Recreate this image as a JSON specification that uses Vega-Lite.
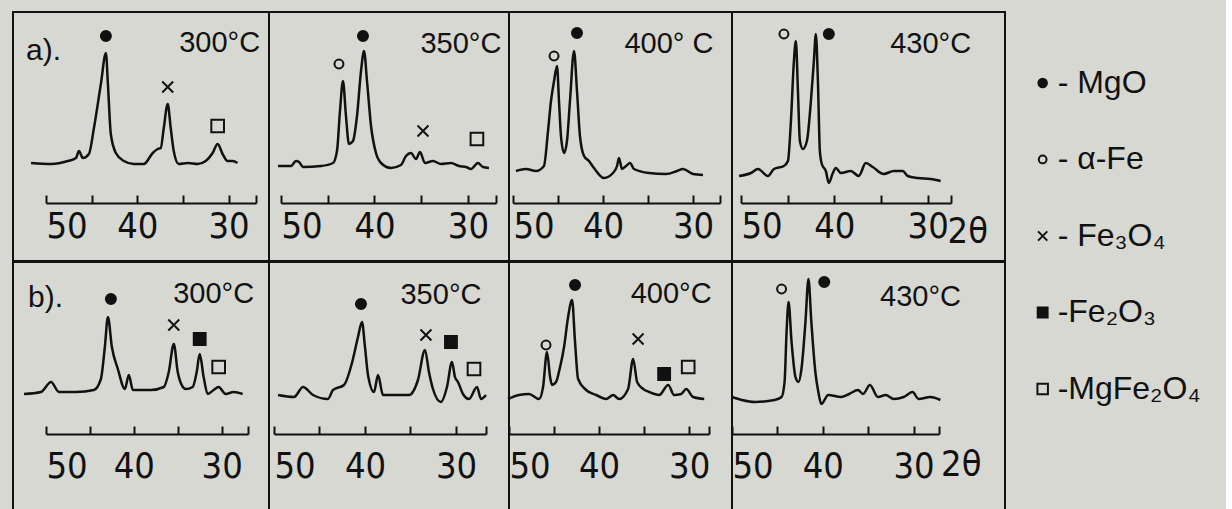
{
 "$schema": "https://vega.github.io/schema/vega-lite/v6.json",
 "background": "#d7d8d2",
 "padding": {"left": 12, "top": 11, "right": 0, "bottom": 0},
 "spacing": 0,
 "resolve": {"scale": {"x": "independent", "y": "independent", "size": "independent"}},
 "datasets": {
  "traces": [
   {"p":"a1","t":51.64,"i":40},{"p":"a1","t":49.45,"i":39},{"p":"a1","t":47.60,"i":42},{"p":"a1","t":46.72,"i":45},{"p":"a1","t":46.39,"i":52},{"p":"a1","t":45.96,"i":45},{"p":"a1","t":45.30,"i":49},{"p":"a1","t":44.75,"i":75},{"p":"a1","t":43.99,"i":119},{"p":"a1","t":43.44,"i":150},{"p":"a1","t":43.22,"i":119},{"p":"a1","t":42.90,"i":69},{"p":"a1","t":42.35,"i":50},{"p":"a1","t":41.48,"i":42},{"p":"a1","t":40.38,"i":39},{"p":"a1","t":39.29,"i":39},{"p":"a1","t":38.31,"i":50},{"p":"a1","t":37.76,"i":54},{"p":"a1","t":37.43,"i":55},{"p":"a1","t":37.10,"i":75},{"p":"a1","t":36.67,"i":99},{"p":"a1","t":36.34,"i":75},{"p":"a1","t":36.01,"i":52},{"p":"a1","t":35.46,"i":39},{"p":"a1","t":34.48,"i":40},{"p":"a1","t":33.39,"i":39},{"p":"a1","t":32.51,"i":42},{"p":"a1","t":31.75,"i":50},{"p":"a1","t":31.20,"i":59},{"p":"a1","t":30.66,"i":49},{"p":"a1","t":30.11,"i":42},{"p":"a1","t":29.56,"i":42},{"p":"a1","t":29.02,"i":40},
   {"p":"a2","t":50.32,"i":37},{"p":"a2","t":48.93,"i":37},{"p":"a2","t":48.40,"i":42},{"p":"a2","t":48.07,"i":41},{"p":"a2","t":47.65,"i":36},{"p":"a2","t":45.72,"i":37},{"p":"a2","t":44.44,"i":40},{"p":"a2","t":44.01,"i":52},{"p":"a2","t":43.69,"i":92},{"p":"a2","t":43.37,"i":122},{"p":"a2","t":43.05,"i":87},{"p":"a2","t":42.73,"i":59},{"p":"a2","t":42.30,"i":62},{"p":"a2","t":41.87,"i":87},{"p":"a2","t":41.44,"i":132},{"p":"a2","t":41.12,"i":152},{"p":"a2","t":40.80,"i":122},{"p":"a2","t":40.37,"i":77},{"p":"a2","t":39.84,"i":50},{"p":"a2","t":39.30,"i":40},{"p":"a2","t":38.24,"i":35},{"p":"a2","t":37.17,"i":38},{"p":"a2","t":36.63,"i":47},{"p":"a2","t":36.10,"i":50},{"p":"a2","t":35.56,"i":44},{"p":"a2","t":35.13,"i":51},{"p":"a2","t":34.60,"i":40},{"p":"a2","t":33.74,"i":42},{"p":"a2","t":32.89,"i":39},{"p":"a2","t":31.82,"i":40},{"p":"a2","t":30.96,"i":37},{"p":"a2","t":30.21,"i":36},{"p":"a2","t":29.68,"i":34},{"p":"a2","t":28.93,"i":40},{"p":"a2","t":28.40,"i":36},{"p":"a2","t":27.75,"i":35},
   {"p":"a3","t":49.67,"i":32},{"p":"a3","t":48.56,"i":34},{"p":"a3","t":47.44,"i":32},{"p":"a3","t":46.56,"i":37},{"p":"a3","t":46.11,"i":72},{"p":"a3","t":45.78,"i":102},{"p":"a3","t":45.44,"i":122},{"p":"a3","t":45.11,"i":137},{"p":"a3","t":44.89,"i":102},{"p":"a3","t":44.67,"i":67},{"p":"a3","t":44.33,"i":50},{"p":"a3","t":44.00,"i":62},{"p":"a3","t":43.67,"i":102},{"p":"a3","t":43.22,"i":152},{"p":"a3","t":42.89,"i":112},{"p":"a3","t":42.56,"i":67},{"p":"a3","t":42.11,"i":47},{"p":"a3","t":41.56,"i":42},{"p":"a3","t":41.00,"i":35},{"p":"a3","t":39.89,"i":25},{"p":"a3","t":38.89,"i":30},{"p":"a3","t":38.44,"i":37},{"p":"a3","t":38.22,"i":45},{"p":"a3","t":37.89,"i":34},{"p":"a3","t":37.44,"i":37},{"p":"a3","t":37.00,"i":40},{"p":"a3","t":36.56,"i":34},{"p":"a3","t":34.89,"i":30},{"p":"a3","t":33.00,"i":29},{"p":"a3","t":31.78,"i":32},{"p":"a3","t":31.11,"i":34},{"p":"a3","t":30.00,"i":29},{"p":"a3","t":28.89,"i":28},
   {"p":"a4","t":50.21,"i":27},{"p":"a4","t":48.93,"i":30},{"p":"a4","t":48.18,"i":34},{"p":"a4","t":47.11,"i":27},{"p":"a4","t":46.47,"i":34},{"p":"a4","t":45.40,"i":37},{"p":"a4","t":44.97,"i":42},{"p":"a4","t":44.65,"i":82},{"p":"a4","t":44.33,"i":142},{"p":"a4","t":44.12,"i":162},{"p":"a4","t":43.90,"i":112},{"p":"a4","t":43.69,"i":62},{"p":"a4","t":43.37,"i":54},{"p":"a4","t":42.94,"i":62},{"p":"a4","t":42.51,"i":102},{"p":"a4","t":42.19,"i":142},{"p":"a4","t":41.98,"i":169},{"p":"a4","t":41.76,"i":122},{"p":"a4","t":41.55,"i":52},{"p":"a4","t":41.34,"i":39},{"p":"a4","t":40.91,"i":32},{"p":"a4","t":40.59,"i":20},{"p":"a4","t":40.16,"i":30},{"p":"a4","t":39.84,"i":35},{"p":"a4","t":39.30,"i":30},{"p":"a4","t":38.24,"i":32},{"p":"a4","t":37.38,"i":27},{"p":"a4","t":36.63,"i":40},{"p":"a4","t":35.88,"i":36},{"p":"a4","t":34.71,"i":29},{"p":"a4","t":33.64,"i":32},{"p":"a4","t":32.67,"i":32},{"p":"a4","t":32.14,"i":27},{"p":"a4","t":31.07,"i":25},{"p":"a4","t":29.68,"i":24},{"p":"a4","t":28.61,"i":22},
   {"p":"b1","t":52.50,"i":40},{"p":"b1","t":50.57,"i":42},{"p":"b1","t":49.43,"i":52},{"p":"b1","t":48.52,"i":42},{"p":"b1","t":46.59,"i":42},{"p":"b1","t":44.55,"i":44},{"p":"b1","t":43.75,"i":55},{"p":"b1","t":43.30,"i":87},{"p":"b1","t":42.95,"i":117},{"p":"b1","t":42.50,"i":87},{"p":"b1","t":41.82,"i":65},{"p":"b1","t":41.02,"i":45},{"p":"b1","t":40.57,"i":59},{"p":"b1","t":40.11,"i":44},{"p":"b1","t":38.07,"i":44},{"p":"b1","t":36.59,"i":47},{"p":"b1","t":36.02,"i":62},{"p":"b1","t":35.45,"i":90},{"p":"b1","t":35.00,"i":62},{"p":"b1","t":34.55,"i":49},{"p":"b1","t":34.09,"i":45},{"p":"b1","t":33.30,"i":47},{"p":"b1","t":32.84,"i":62},{"p":"b1","t":32.50,"i":80},{"p":"b1","t":32.05,"i":57},{"p":"b1","t":31.59,"i":40},{"p":"b1","t":30.91,"i":44},{"p":"b1","t":30.34,"i":47},{"p":"b1","t":29.55,"i":40},{"p":"b1","t":28.64,"i":42},{"p":"b1","t":27.61,"i":40},
   {"p":"b2","t":49.56,"i":39},{"p":"b2","t":47.80,"i":37},{"p":"b2","t":46.81,"i":47},{"p":"b2","t":45.71,"i":39},{"p":"b2","t":44.07,"i":35},{"p":"b2","t":43.52,"i":44},{"p":"b2","t":42.31,"i":49},{"p":"b2","t":41.32,"i":75},{"p":"b2","t":40.77,"i":97},{"p":"b2","t":40.33,"i":112},{"p":"b2","t":40.00,"i":87},{"p":"b2","t":39.67,"i":59},{"p":"b2","t":39.01,"i":42},{"p":"b2","t":38.57,"i":59},{"p":"b2","t":38.02,"i":39},{"p":"b2","t":36.59,"i":39},{"p":"b2","t":35.16,"i":39},{"p":"b2","t":34.18,"i":54},{"p":"b2","t":33.41,"i":84},{"p":"b2","t":32.97,"i":62},{"p":"b2","t":32.53,"i":45},{"p":"b2","t":31.65,"i":32},{"p":"b2","t":30.99,"i":47},{"p":"b2","t":30.44,"i":72},{"p":"b2","t":30.11,"i":57},{"p":"b2","t":29.78,"i":52},{"p":"b2","t":29.23,"i":40},{"p":"b2","t":28.57,"i":35},{"p":"b2","t":27.69,"i":47},{"p":"b2","t":27.25,"i":35},{"p":"b2","t":26.70,"i":39},
   {"p":"b3","t":50.11,"i":35},{"p":"b3","t":48.89,"i":39},{"p":"b3","t":47.78,"i":40},{"p":"b3","t":46.67,"i":35},{"p":"b3","t":46.22,"i":47},{"p":"b3","t":45.78,"i":82},{"p":"b3","t":45.44,"i":57},{"p":"b3","t":45.22,"i":49},{"p":"b3","t":44.78,"i":52},{"p":"b3","t":44.33,"i":67},{"p":"b3","t":43.89,"i":87},{"p":"b3","t":43.44,"i":117},{"p":"b3","t":43.00,"i":134},{"p":"b3","t":42.67,"i":92},{"p":"b3","t":42.33,"i":55},{"p":"b3","t":41.44,"i":44},{"p":"b3","t":40.33,"i":39},{"p":"b3","t":39.22,"i":35},{"p":"b3","t":38.44,"i":39},{"p":"b3","t":37.78,"i":35},{"p":"b3","t":36.78,"i":45},{"p":"b3","t":36.22,"i":75},{"p":"b3","t":35.78,"i":52},{"p":"b3","t":35.11,"i":45},{"p":"b3","t":34.44,"i":42},{"p":"b3","t":33.33,"i":39},{"p":"b3","t":32.33,"i":49},{"p":"b3","t":31.67,"i":39},{"p":"b3","t":30.89,"i":40},{"p":"b3","t":30.33,"i":45},{"p":"b3","t":29.56,"i":37},{"p":"b3","t":28.33,"i":35},
   {"p":"b4","t":50.00,"i":37},{"p":"b4","t":48.91,"i":34},{"p":"b4","t":47.49,"i":32},{"p":"b4","t":45.30,"i":34},{"p":"b4","t":44.54,"i":37},{"p":"b4","t":44.21,"i":52},{"p":"b4","t":43.99,"i":102},{"p":"b4","t":43.77,"i":132},{"p":"b4","t":43.44,"i":92},{"p":"b4","t":43.01,"i":57},{"p":"b4","t":42.68,"i":52},{"p":"b4","t":42.35,"i":65},{"p":"b4","t":41.91,"i":112},{"p":"b4","t":41.58,"i":155},{"p":"b4","t":41.26,"i":112},{"p":"b4","t":40.82,"i":62},{"p":"b4","t":40.49,"i":42},{"p":"b4","t":40.16,"i":30},{"p":"b4","t":39.40,"i":39},{"p":"b4","t":37.98,"i":37},{"p":"b4","t":37.10,"i":40},{"p":"b4","t":36.12,"i":44},{"p":"b4","t":35.57,"i":40},{"p":"b4","t":34.81,"i":49},{"p":"b4","t":33.93,"i":37},{"p":"b4","t":33.06,"i":39},{"p":"b4","t":32.19,"i":35},{"p":"b4","t":31.09,"i":37},{"p":"b4","t":30.11,"i":42},{"p":"b4","t":29.45,"i":35},{"p":"b4","t":28.14,"i":37},{"p":"b4","t":27.05,"i":34}
  ],
  "markers": [
   {"p":"a1","t":43.44,"i":167,"phase":"MgO"},{"p":"a1","t":36.67,"i":116,"phase":"Fe₃O₄"},{"p":"a1","t":31.20,"i":77,"phase":"MgFe₂O₄"},
   {"p":"a2","t":43.80,"i":139,"phase":"α-Fe"},{"p":"a2","t":41.23,"i":167,"phase":"MgO"},{"p":"a2","t":34.81,"i":72,"phase":"Fe₃O₄"},{"p":"a2","t":29.04,"i":64,"phase":"MgFe₂O₄"},
   {"p":"a3","t":45.44,"i":147,"phase":"α-Fe"},{"p":"a3","t":42.89,"i":170,"phase":"MgO"},
   {"p":"a4","t":45.40,"i":169,"phase":"α-Fe"},{"p":"a4","t":40.59,"i":169,"phase":"MgO"},
   {"p":"b1","t":42.61,"i":135,"phase":"MgO"},{"p":"b1","t":35.45,"i":109,"phase":"Fe₃O₄"},{"p":"b1","t":32.50,"i":95,"phase":"Fe₂O₃"},{"p":"b1","t":30.34,"i":67,"phase":"MgFe₂O₄"},
   {"p":"b2","t":40.44,"i":130,"phase":"MgO"},{"p":"b2","t":33.30,"i":99,"phase":"Fe₃O₄"},{"p":"b2","t":30.55,"i":92,"phase":"Fe₂O₃"},{"p":"b2","t":28.02,"i":65,"phase":"MgFe₂O₄"},
   {"p":"b3","t":45.89,"i":89,"phase":"α-Fe"},{"p":"b3","t":42.67,"i":149,"phase":"MgO"},{"p":"b3","t":35.67,"i":95,"phase":"Fe₃O₄"},{"p":"b3","t":32.78,"i":60,"phase":"Fe₂O₃"},{"p":"b3","t":30.11,"i":67,"phase":"MgFe₂O₄"},
   {"p":"b4","t":44.54,"i":145,"phase":"α-Fe"},{"p":"b4","t":39.84,"i":152,"phase":"MgO"}
  ],
  "temps": [
   {"p":"a1","t":30.98,"i":160,"text":"300°C"},{"p":"a2","t":30.75,"i":159,"text":"350°C"},{"p":"a3","t":32.67,"i":159,"text":"400° C"},{"p":"a4","t":29.68,"i":159,"text":"430°C"},
   {"p":"b1","t":30.91,"i":140,"text":"300°C"},{"p":"b2","t":31.65,"i":139,"text":"350°C"},{"p":"b3","t":32.00,"i":140,"text":"400°C"},{"p":"b4","t":29.23,"i":137,"text":"430°C"}
  ],
  "tags": [
   {"p":"a1","t":52.19,"i":152,"text":"a)."},{"p":"b1","t":52.05,"i":136,"text":"b)."}
  ],
  "units": [
   {"p":"a4","t":25.7,"i":-29,"text":"2θ"},{"p":"b4","t":24.75,"i":-31,"text":"2θ"}
  ],
  "legend": [
   {"k":1,"phase":"MgO","label":"- MgO"},{"k":2,"phase":"α-Fe","label":"- α-Fe"},{"k":3,"phase":"Fe₃O₄","label":"- Fe₃O₄"},{"k":4,"phase":"Fe₂O₃","label":"-Fe₂O₃"},{"k":5,"phase":"MgFe₂O₄","label":"-MgFe₂O₄"}
  ]
 },
 "hconcat": [
 {"vconcat": [
  {"spacing": 0, "bounds": "flush", "resolve": {"scale": {"x": "independent", "y": "independent"}},
   "hconcat": [
    {"width": 256, "height": 249, "layer": [
     {"data": {"name": "traces"}, "transform": [{"filter": "datum.p === 'a1'"}], "mark": {"type": "line", "color": "#111", "strokeWidth": 2.5, "interpolate": "monotone"},
      "encoding": {"x": {"field": "t", "type": "quantitative", "scale": {"domain": [50, 27], "range": [33, 243], "nice": false, "zero": false}, "axis": {"values": [50, 45, 40, 35, 30, 27], "labelExpr": "datum.value % 10 === 0 ? datum.label : ''", "offset": -58, "labelPadding": 14, "title": null}},
                   "y": {"field": "i", "type": "quantitative", "scale": {"domain": [-58, 191], "nice": false, "zero": false}, "axis": null}}},
     {"data": {"name": "markers"}, "transform": [{"filter": "datum.p === 'a1'"}], "mark": {"type": "point", "filled": true, "opacity": 1, "stroke": "#111", "strokeWidth": 2},
      "encoding": {"x": {"field": "t", "type": "quantitative"}, "y": {"field": "i", "type": "quantitative"},
       "shape": {"field": "phase", "type": "nominal", "scale": {"domain": ["MgO", "α-Fe", "Fe₃O₄", "Fe₂O₃", "MgFe₂O₄"], "range": ["circle", "circle", "M-1,-1L1,1M1,-1L-1,1", "square", "square"]}, "legend": null},
       "fill": {"field": "phase", "type": "nominal", "scale": {"domain": ["MgO", "α-Fe", "Fe₃O₄", "Fe₂O₃", "MgFe₂O₄"], "range": ["#111111", "#d7d8d2", "#111111", "#111111", "#d7d8d2"]}, "legend": null},
       "size": {"field": "phase", "type": "ordinal", "scale": {"domain": ["α-Fe", "MgO", "Fe₃O₄", "Fe₂O₃", "MgFe₂O₄"], "range": [80, 160, 1000, 270, 170]}, "legend": null}}},
     {"data": {"name": "temps"}, "transform": [{"filter": "datum.p === 'a1'"}], "mark": {"type": "text", "font": "Liberation Sans, Arial, sans-serif", "fontSize": 29, "color": "#111"},
      "encoding": {"x": {"field": "t", "type": "quantitative"}, "y": {"field": "i", "type": "quantitative"}, "text": {"field": "text"}}},
     {"data": {"name": "tags"}, "transform": [{"filter": "datum.p === 'a1'"}], "mark": {"type": "text", "font": "Liberation Sans, Arial, sans-serif", "fontSize": 30, "align": "left", "color": "#111"},
      "encoding": {"x": {"field": "t", "type": "quantitative"}, "y": {"field": "i", "type": "quantitative"}, "text": {"field": "text"}}}
    ]},
    {"width": 240, "height": 249, "layer": [
     {"data": {"name": "traces"}, "transform": [{"filter": "datum.p === 'a2'"}], "mark": {"type": "line", "color": "#111", "strokeWidth": 2.5, "interpolate": "monotone"},
      "encoding": {"x": {"field": "t", "type": "quantitative", "scale": {"domain": [50, 27], "range": [12, 227], "nice": false, "zero": false}, "axis": {"values": [50, 45, 40, 35, 30, 27], "labelExpr": "datum.value % 10 === 0 ? datum.label : ''", "offset": -58, "labelPadding": 14, "title": null}},
                   "y": {"field": "i", "type": "quantitative", "scale": {"domain": [-58, 191], "nice": false, "zero": false}, "axis": null}}},
     {"data": {"name": "markers"}, "transform": [{"filter": "datum.p === 'a2'"}], "mark": {"type": "point", "filled": true, "opacity": 1, "stroke": "#111", "strokeWidth": 2},
      "encoding": {"x": {"field": "t", "type": "quantitative"}, "y": {"field": "i", "type": "quantitative"},
       "shape": {"field": "phase", "type": "nominal", "scale": {"domain": ["MgO", "α-Fe", "Fe₃O₄", "Fe₂O₃", "MgFe₂O₄"], "range": ["circle", "circle", "M-1,-1L1,1M1,-1L-1,1", "square", "square"]}, "legend": null},
       "fill": {"field": "phase", "type": "nominal", "scale": {"domain": ["MgO", "α-Fe", "Fe₃O₄", "Fe₂O₃", "MgFe₂O₄"], "range": ["#111111", "#d7d8d2", "#111111", "#111111", "#d7d8d2"]}, "legend": null},
       "size": {"field": "phase", "type": "ordinal", "scale": {"domain": ["α-Fe", "MgO", "Fe₃O₄", "Fe₂O₃", "MgFe₂O₄"], "range": [80, 160, 1000, 270, 170]}, "legend": null}}},
     {"data": {"name": "temps"}, "transform": [{"filter": "datum.p === 'a2'"}], "mark": {"type": "text", "font": "Liberation Sans, Arial, sans-serif", "fontSize": 29, "color": "#111"},
      "encoding": {"x": {"field": "t", "type": "quantitative"}, "y": {"field": "i", "type": "quantitative"}, "text": {"field": "text"}}}
    ]},
    {"width": 223, "height": 249, "layer": [
     {"data": {"name": "traces"}, "transform": [{"filter": "datum.p === 'a3'"}], "mark": {"type": "line", "color": "#111", "strokeWidth": 2.5, "interpolate": "monotone"},
      "encoding": {"x": {"field": "t", "type": "quantitative", "scale": {"domain": [50, 27], "range": [4, 211], "nice": false, "zero": false}, "axis": {"values": [50, 45, 40, 35, 30, 27], "labelExpr": "datum.value % 10 === 0 ? datum.label : ''", "offset": -58, "labelPadding": 14, "title": null}},
                   "y": {"field": "i", "type": "quantitative", "scale": {"domain": [-58, 191], "nice": false, "zero": false}, "axis": null}}},
     {"data": {"name": "markers"}, "transform": [{"filter": "datum.p === 'a3'"}], "mark": {"type": "point", "filled": true, "opacity": 1, "stroke": "#111", "strokeWidth": 2},
      "encoding": {"x": {"field": "t", "type": "quantitative"}, "y": {"field": "i", "type": "quantitative"},
       "shape": {"field": "phase", "type": "nominal", "scale": {"domain": ["MgO", "α-Fe", "Fe₃O₄", "Fe₂O₃", "MgFe₂O₄"], "range": ["circle", "circle", "M-1,-1L1,1M1,-1L-1,1", "square", "square"]}, "legend": null},
       "fill": {"field": "phase", "type": "nominal", "scale": {"domain": ["MgO", "α-Fe", "Fe₃O₄", "Fe₂O₃", "MgFe₂O₄"], "range": ["#111111", "#d7d8d2", "#111111", "#111111", "#d7d8d2"]}, "legend": null},
       "size": {"field": "phase", "type": "ordinal", "scale": {"domain": ["α-Fe", "MgO", "Fe₃O₄", "Fe₂O₃", "MgFe₂O₄"], "range": [80, 160, 1000, 270, 170]}, "legend": null}}},
     {"data": {"name": "temps"}, "transform": [{"filter": "datum.p === 'a3'"}], "mark": {"type": "text", "font": "Liberation Sans, Arial, sans-serif", "fontSize": 29, "color": "#111"},
      "encoding": {"x": {"field": "t", "type": "quantitative"}, "y": {"field": "i", "type": "quantitative"}, "text": {"field": "text"}}}
    ]},
    {"width": 273, "height": 249, "layer": [
     {"data": {"name": "traces"}, "transform": [{"filter": "datum.p === 'a4'"}], "mark": {"type": "line", "color": "#111", "strokeWidth": 2.5, "interpolate": "monotone"},
      "encoding": {"x": {"field": "t", "type": "quantitative", "scale": {"domain": [50, 27.5], "range": [9, 219], "nice": false, "zero": false}, "axis": {"values": [50, 45, 40, 35, 30, 27.5], "labelExpr": "datum.value % 10 === 0 ? datum.label : ''", "offset": -58, "labelPadding": 14, "title": null}},
                   "y": {"field": "i", "type": "quantitative", "scale": {"domain": [-58, 191], "nice": false, "zero": false}, "axis": null}}},
     {"data": {"name": "markers"}, "transform": [{"filter": "datum.p === 'a4'"}], "mark": {"type": "point", "filled": true, "opacity": 1, "stroke": "#111", "strokeWidth": 2},
      "encoding": {"x": {"field": "t", "type": "quantitative"}, "y": {"field": "i", "type": "quantitative"},
       "shape": {"field": "phase", "type": "nominal", "scale": {"domain": ["MgO", "α-Fe", "Fe₃O₄", "Fe₂O₃", "MgFe₂O₄"], "range": ["circle", "circle", "M-1,-1L1,1M1,-1L-1,1", "square", "square"]}, "legend": null},
       "fill": {"field": "phase", "type": "nominal", "scale": {"domain": ["MgO", "α-Fe", "Fe₃O₄", "Fe₂O₃", "MgFe₂O₄"], "range": ["#111111", "#d7d8d2", "#111111", "#111111", "#d7d8d2"]}, "legend": null},
       "size": {"field": "phase", "type": "ordinal", "scale": {"domain": ["α-Fe", "MgO", "Fe₃O₄", "Fe₂O₃", "MgFe₂O₄"], "range": [80, 160, 1000, 270, 170]}, "legend": null}}},
     {"data": {"name": "temps"}, "transform": [{"filter": "datum.p === 'a4'"}], "mark": {"type": "text", "font": "Liberation Sans, Arial, sans-serif", "fontSize": 29, "color": "#111"},
      "encoding": {"x": {"field": "t", "type": "quantitative"}, "y": {"field": "i", "type": "quantitative"}, "text": {"field": "text"}}},
     {"data": {"name": "units"}, "transform": [{"filter": "datum.p === 'a4'"}], "mark": {"type": "text", "font": "Liberation Sans Narrow, DejaVu Sans Condensed, Liberation Sans, sans-serif", "fontSize": 36, "color": "#111"},
      "encoding": {"x": {"field": "t", "type": "quantitative"}, "y": {"field": "i", "type": "quantitative"}, "text": {"field": "text"}}}
    ]}
   ]},
  {"spacing": 0, "bounds": "flush", "resolve": {"scale": {"x": "independent", "y": "independent"}},
   "hconcat": [
    {"width": 256, "height": 255, "layer": [
     {"data": {"name": "traces"}, "transform": [{"filter": "datum.p === 'b1'"}], "mark": {"type": "line", "color": "#111", "strokeWidth": 2.5, "interpolate": "monotone"},
      "encoding": {"x": {"field": "t", "type": "quantitative", "scale": {"domain": [50, 27], "range": [33, 235], "nice": false, "zero": false}, "axis": {"values": [50, 45, 40, 35, 30, 27], "labelExpr": "datum.value % 10 === 0 ? datum.label : ''", "offset": -83, "labelPadding": 23, "title": null}},
                   "y": {"field": "i", "type": "quantitative", "scale": {"domain": [-83, 172], "nice": false, "zero": false}, "axis": null}}},
     {"data": {"name": "markers"}, "transform": [{"filter": "datum.p === 'b1'"}], "mark": {"type": "point", "filled": true, "opacity": 1, "stroke": "#111", "strokeWidth": 2},
      "encoding": {"x": {"field": "t", "type": "quantitative"}, "y": {"field": "i", "type": "quantitative"},
       "shape": {"field": "phase", "type": "nominal", "scale": {"domain": ["MgO", "α-Fe", "Fe₃O₄", "Fe₂O₃", "MgFe₂O₄"], "range": ["circle", "circle", "M-1,-1L1,1M1,-1L-1,1", "square", "square"]}, "legend": null},
       "fill": {"field": "phase", "type": "nominal", "scale": {"domain": ["MgO", "α-Fe", "Fe₃O₄", "Fe₂O₃", "MgFe₂O₄"], "range": ["#111111", "#d7d8d2", "#111111", "#111111", "#d7d8d2"]}, "legend": null},
       "size": {"field": "phase", "type": "ordinal", "scale": {"domain": ["α-Fe", "MgO", "Fe₃O₄", "Fe₂O₃", "MgFe₂O₄"], "range": [80, 160, 1000, 270, 170]}, "legend": null}}},
     {"data": {"name": "temps"}, "transform": [{"filter": "datum.p === 'b1'"}], "mark": {"type": "text", "font": "Liberation Sans, Arial, sans-serif", "fontSize": 29, "color": "#111"},
      "encoding": {"x": {"field": "t", "type": "quantitative"}, "y": {"field": "i", "type": "quantitative"}, "text": {"field": "text"}}},
     {"data": {"name": "tags"}, "transform": [{"filter": "datum.p === 'b1'"}], "mark": {"type": "text", "font": "Liberation Sans, Arial, sans-serif", "fontSize": 30, "align": "left", "color": "#111"},
      "encoding": {"x": {"field": "t", "type": "quantitative"}, "y": {"field": "i", "type": "quantitative"}, "text": {"field": "text"}}}
    ]},
    {"width": 240, "height": 255, "layer": [
     {"data": {"name": "traces"}, "transform": [{"filter": "datum.p === 'b2'"}], "mark": {"type": "line", "color": "#111", "strokeWidth": 2.5, "interpolate": "monotone"},
      "encoding": {"x": {"field": "t", "type": "quantitative", "scale": {"domain": [50, 26.7], "range": [5, 217], "nice": false, "zero": false}, "axis": {"values": [50, 45, 40, 35, 30, 26.7], "labelExpr": "datum.value % 10 === 0 ? datum.label : ''", "offset": -83, "labelPadding": 23, "title": null}},
                   "y": {"field": "i", "type": "quantitative", "scale": {"domain": [-83, 172], "nice": false, "zero": false}, "axis": null}}},
     {"data": {"name": "markers"}, "transform": [{"filter": "datum.p === 'b2'"}], "mark": {"type": "point", "filled": true, "opacity": 1, "stroke": "#111", "strokeWidth": 2},
      "encoding": {"x": {"field": "t", "type": "quantitative"}, "y": {"field": "i", "type": "quantitative"},
       "shape": {"field": "phase", "type": "nominal", "scale": {"domain": ["MgO", "α-Fe", "Fe₃O₄", "Fe₂O₃", "MgFe₂O₄"], "range": ["circle", "circle", "M-1,-1L1,1M1,-1L-1,1", "square", "square"]}, "legend": null},
       "fill": {"field": "phase", "type": "nominal", "scale": {"domain": ["MgO", "α-Fe", "Fe₃O₄", "Fe₂O₃", "MgFe₂O₄"], "range": ["#111111", "#d7d8d2", "#111111", "#111111", "#d7d8d2"]}, "legend": null},
       "size": {"field": "phase", "type": "ordinal", "scale": {"domain": ["α-Fe", "MgO", "Fe₃O₄", "Fe₂O₃", "MgFe₂O₄"], "range": [80, 160, 1000, 270, 170]}, "legend": null}}},
     {"data": {"name": "temps"}, "transform": [{"filter": "datum.p === 'b2'"}], "mark": {"type": "text", "font": "Liberation Sans, Arial, sans-serif", "fontSize": 29, "color": "#111"},
      "encoding": {"x": {"field": "t", "type": "quantitative"}, "y": {"field": "i", "type": "quantitative"}, "text": {"field": "text"}}}
    ]},
    {"width": 223, "height": 255, "layer": [
     {"data": {"name": "traces"}, "transform": [{"filter": "datum.p === 'b3'"}], "mark": {"type": "line", "color": "#111", "strokeWidth": 2.5, "interpolate": "monotone"},
      "encoding": {"x": {"field": "t", "type": "quantitative", "scale": {"domain": [50, 27.8], "range": [0, 200], "nice": false, "zero": false}, "axis": {"values": [50, 45, 40, 35, 30, 27.8], "labelExpr": "datum.value % 10 === 0 ? datum.label : ''", "offset": -83, "labelPadding": 23, "title": null}},
                   "y": {"field": "i", "type": "quantitative", "scale": {"domain": [-83, 172], "nice": false, "zero": false}, "axis": null}}},
     {"data": {"name": "markers"}, "transform": [{"filter": "datum.p === 'b3'"}], "mark": {"type": "point", "filled": true, "opacity": 1, "stroke": "#111", "strokeWidth": 2},
      "encoding": {"x": {"field": "t", "type": "quantitative"}, "y": {"field": "i", "type": "quantitative"},
       "shape": {"field": "phase", "type": "nominal", "scale": {"domain": ["MgO", "α-Fe", "Fe₃O₄", "Fe₂O₃", "MgFe₂O₄"], "range": ["circle", "circle", "M-1,-1L1,1M1,-1L-1,1", "square", "square"]}, "legend": null},
       "fill": {"field": "phase", "type": "nominal", "scale": {"domain": ["MgO", "α-Fe", "Fe₃O₄", "Fe₂O₃", "MgFe₂O₄"], "range": ["#111111", "#d7d8d2", "#111111", "#111111", "#d7d8d2"]}, "legend": null},
       "size": {"field": "phase", "type": "ordinal", "scale": {"domain": ["α-Fe", "MgO", "Fe₃O₄", "Fe₂O₃", "MgFe₂O₄"], "range": [80, 160, 1000, 270, 170]}, "legend": null}}},
     {"data": {"name": "temps"}, "transform": [{"filter": "datum.p === 'b3'"}], "mark": {"type": "text", "font": "Liberation Sans, Arial, sans-serif", "fontSize": 29, "color": "#111"},
      "encoding": {"x": {"field": "t", "type": "quantitative"}, "y": {"field": "i", "type": "quantitative"}, "text": {"field": "text"}}}
    ]},
    {"width": 273, "height": 255, "layer": [
     {"data": {"name": "traces"}, "transform": [{"filter": "datum.p === 'b4'"}], "mark": {"type": "line", "color": "#111", "strokeWidth": 2.5, "interpolate": "monotone"},
      "encoding": {"x": {"field": "t", "type": "quantitative", "scale": {"domain": [50, 27.2], "range": [0, 207], "nice": false, "zero": false}, "axis": {"values": [50, 45, 40, 35, 30, 27.2], "labelExpr": "datum.value % 10 === 0 ? datum.label : ''", "offset": -83, "labelPadding": 23, "title": null}},
                   "y": {"field": "i", "type": "quantitative", "scale": {"domain": [-83, 172], "nice": false, "zero": false}, "axis": null}}},
     {"data": {"name": "markers"}, "transform": [{"filter": "datum.p === 'b4'"}], "mark": {"type": "point", "filled": true, "opacity": 1, "stroke": "#111", "strokeWidth": 2},
      "encoding": {"x": {"field": "t", "type": "quantitative"}, "y": {"field": "i", "type": "quantitative"},
       "shape": {"field": "phase", "type": "nominal", "scale": {"domain": ["MgO", "α-Fe", "Fe₃O₄", "Fe₂O₃", "MgFe₂O₄"], "range": ["circle", "circle", "M-1,-1L1,1M1,-1L-1,1", "square", "square"]}, "legend": null},
       "fill": {"field": "phase", "type": "nominal", "scale": {"domain": ["MgO", "α-Fe", "Fe₃O₄", "Fe₂O₃", "MgFe₂O₄"], "range": ["#111111", "#d7d8d2", "#111111", "#111111", "#d7d8d2"]}, "legend": null},
       "size": {"field": "phase", "type": "ordinal", "scale": {"domain": ["α-Fe", "MgO", "Fe₃O₄", "Fe₂O₃", "MgFe₂O₄"], "range": [80, 160, 1000, 270, 170]}, "legend": null}}},
     {"data": {"name": "temps"}, "transform": [{"filter": "datum.p === 'b4'"}], "mark": {"type": "text", "font": "Liberation Sans, Arial, sans-serif", "fontSize": 29, "color": "#111"},
      "encoding": {"x": {"field": "t", "type": "quantitative"}, "y": {"field": "i", "type": "quantitative"}, "text": {"field": "text"}}},
     {"data": {"name": "units"}, "transform": [{"filter": "datum.p === 'b4'"}], "mark": {"type": "text", "font": "Liberation Sans Narrow, DejaVu Sans Condensed, Liberation Sans, sans-serif", "fontSize": 36, "color": "#111"},
      "encoding": {"x": {"field": "t", "type": "quantitative"}, "y": {"field": "i", "type": "quantitative"}, "text": {"field": "text"}}}
    ]}
   ]}
  ], "spacing": -1, "resolve": {"scale": {"x": "independent", "y": "independent"}}},
  {"width": 220, "height": 498, "view": {"stroke": null},
   "data": {"name": "legend"},
   "encoding": {
    "x": {"datum": 0, "type": "quantitative", "scale": {"domain": [-1, 5], "nice": false, "zero": false}, "axis": null},
    "y": {"field": "k", "type": "quantitative", "scale": {"domain": [0.072, 6.582], "reverse": true, "nice": false, "zero": false}, "axis": null}
   },
   "layer": [
    {"mark": {"type": "point", "filled": true, "opacity": 1, "stroke": "#111", "strokeWidth": 2},
     "encoding": {
      "shape": {"field": "phase", "type": "nominal", "scale": {"domain": ["MgO", "α-Fe", "Fe₃O₄", "Fe₂O₃", "MgFe₂O₄"], "range": ["circle", "circle", "M-1,-1L1,1M1,-1L-1,1", "square", "square"]}, "legend": null},
      "fill": {"field": "phase", "type": "nominal", "scale": {"domain": ["MgO", "α-Fe", "Fe₃O₄", "Fe₂O₃", "MgFe₂O₄"], "range": ["#111111", "#d7d8d2", "#111111", "#111111", "#d7d8d2"]}, "legend": null},
      "size": {"field": "phase", "type": "ordinal", "scale": {"domain": ["α-Fe", "MgO", "Fe₃O₄", "Fe₂O₃", "MgFe₂O₄"], "range": [60, 110, 650, 150, 100]}, "legend": null}}},
    {"mark": {"type": "text", "align": "left", "baseline": "middle", "dx": 15, "font": "Liberation Sans, Arial, sans-serif", "fontSize": 32, "color": "#111"},
     "encoding": {"text": {"field": "label"}}}
   ]}
 ],
 "config": {
  "view": {"stroke": "#111", "strokeWidth": 2},
  "axis": {"grid": false, "domainColor": "#111", "domainWidth": 2, "tickColor": "#111", "tickWidth": 2, "tickSize": -8, "labelColor": "#111", "labelFont": "Liberation Sans Narrow, DejaVu Sans Condensed, Liberation Sans, sans-serif", "labelFontSize": 36, "labelFlush": true, "labelOverlap": false, "labelBound": false, "labelBaseline": "top"}
 }
}
